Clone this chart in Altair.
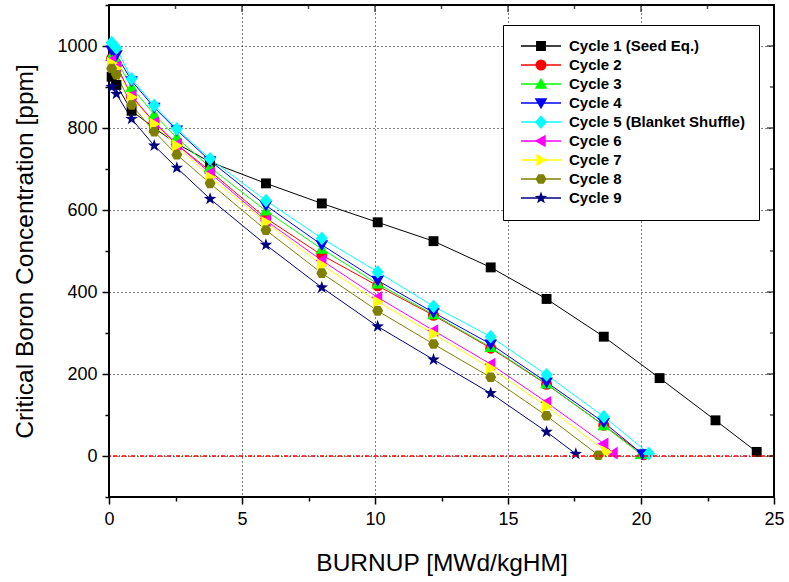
import altair as alt
import pandas as pd

# ---------------- data ----------------
cycle_names = ["Cycle 1 (Seed Eq.)", "Cycle 2", "Cycle 3", "Cycle 4",
               "Cycle 5 (Blanket Shuffle)", "Cycle 6", "Cycle 7", "Cycle 8", "Cycle 9"]
cycle_colors = ["#000000", "#FF0000", "#00FF00", "#0000FF", "#00FFFF",
                "#FF00FF", "#FFFF00", "#808000", "#000080"]

base_x = [0.1, 0.28, 0.85, 1.7, 2.55, 3.8, 5.9, 8.0, 10.1, 12.2, 14.35, 16.45]

c1_x = base_x + [18.6, 20.7, 22.8, 24.35]
c1_y = [925, 905, 842, 800, 762, 717, 665, 616, 570, 524, 460, 383, 291, 190, 87, 10]
c2_x = base_x + [18.6, 20.1]
c2_y = [970, 955, 875, 815, 760, 695, 580, 490, 415, 343, 263, 175, 75, 3]
c3_x = base_x + [18.6, 20.0]
c3_y = [975, 965, 899, 833, 776, 704, 598, 505, 420, 345, 265, 176, 74, 4]
c4_x = base_x + [18.6, 20.05]
c4_y = [990, 978, 915, 850, 795, 720, 611, 515, 428, 350, 273, 180, 82, 5]
c5_x = base_x + [18.6, 20.3]
c5_y = [1008, 995, 920, 855, 798, 725, 623, 531, 449, 365, 291, 198, 96, 6]
c6_x = base_x + [18.6, 18.95]
c6_y = [965, 950, 879, 813, 760, 690, 574, 477, 387, 306, 224, 131, 30, 7]
c7_x = base_x + [18.7]
c7_y = [958, 945, 875, 810, 757, 680, 570, 466, 376, 298, 214, 121, 10]
c8_x = base_x + [18.4]
c8_y = [945, 930, 856, 791, 735, 665, 551, 446, 354, 273, 192, 98, 2]
c9_x = base_x + [17.55]
c9_y = [900, 883, 822, 757, 703, 627, 515, 411, 316, 235, 153, 59, 5]

series_x = [c1_x, c2_x, c3_x, c4_x, c5_x, c6_x, c7_x, c8_x, c9_x]
series_y = [c1_y, c2_y, c3_y, c4_y, c5_y, c6_y, c7_y, c8_y, c9_y]

zero_line = [0]
x_ticks = [0, 2.5, 5, 7.5, 10, 12.5, 15, 17.5, 20, 22.5, 25]
x_major = [0, 5, 10, 15, 20, 25]
x_minor = [2.5, 7.5, 12.5, 17.5, 22.5]
y_ticks = [-100, 0, 100, 200, 300, 400, 500, 600, 700, 800, 900, 1000, 1100]
y_major = [0, 200, 400, 600, 800, 1000]
y_minor = [-100, 100, 300, 500, 700, 900]

rows = []
for name, xs, ys in zip(cycle_names, series_x, series_y):
    for xv, yv in zip(xs, ys):
        rows.append({"cycle": name, "cycle_b": name, "burnup": xv, "boron": yv})
df = pd.DataFrame(rows)

# ---------------- shapes ----------------
sq = "M-0.9,-0.9H0.9V0.9H-0.9Z"
circ = "circle"
tri_up = "M0,-1.15L1.15,0.85L-1.15,0.85Z"
tri_dn = "M0,1.15L1.15,-0.85L-1.15,-0.85Z"
diam = "M0,-1.25L1.1,0L0,1.25L-1.1,0Z"
tri_l = "M-1.15,0L0.85,-1.15L0.85,1.15Z"
tri_r = "M1.15,0L-0.85,-1.15L-0.85,1.15Z"
hexa = "M-1,0L-0.5,-0.87L0.5,-0.87L1,0L0.5,0.87L-0.5,0.87Z"
star = ("M0,-1.2L0.28,-0.39L1.14,-0.37L0.46,0.15L0.71,0.97L0,0.48"
        "L-0.71,0.97L-0.46,0.15L-1.14,-0.37L-0.28,-0.39Z")
shapes = [sq, circ, tri_up, tri_dn, diam, tri_l, tri_r, hexa, star]

FONT = "Liberation Sans"
W, H = 665, 492

x_scale = alt.Scale(domain=[0, 25], nice=False, zero=False)
y_scale = alt.Scale(domain=[-100, 1100], nice=False, zero=False)

x_axis = alt.Axis(
    title="BURNUP [MWd/kgHM]", values=x_ticks, format="~g",
    labelExpr="datum.value % 5 === 0 ? datum.label : ''",
    tickSize={"condition": {"test": "datum.value % 5 !== 0", "value": 4}, "value": 7},
    gridOpacity={"condition": {"test": "datum.value % 5 !== 0", "value": 0}, "value": 1},
    grid=True, gridDash=[1, 3], gridColor="black", gridWidth=1,
    tickColor="black", tickWidth=1.5, domain=False,
    labelFont=FONT, labelFontSize=18, labelColor="black", labelPadding=6,
    labelFlush=False, labelOverlap=False,
    titleFont=FONT, titleFontSize=24.5, titleFontWeight="normal", titleColor="black",
    titlePadding=23,
)
y_axis = alt.Axis(
    title="Critical Boron Concentration [ppm]", values=y_ticks, format="d",
    labelExpr="datum.value % 200 === 0 && datum.value >= 0 && datum.value <= 1000 ? datum.label : ''",
    tickSize={"condition": {"test": "datum.value % 200 !== 0", "value": 4}, "value": 7},
    gridOpacity={"condition": {"test": "datum.value % 200 !== 0 || datum.value > 1000", "value": 0}, "value": 1},
    grid=True, gridDash=[1, 3], gridColor="black", gridWidth=1,
    tickColor="black", tickWidth=1.5, domain=False,
    labelFont=FONT, labelFontSize=18, labelColor="black", labelPadding=5,
    labelFlush=False, labelOverlap=False,
    titleFont=FONT, titleFontSize=24.5, titleFontWeight="normal", titleColor="black",
    titlePadding=19,
)

X = alt.X("burnup:Q", scale=x_scale, axis=x_axis)
Y = alt.Y("boron:Q", scale=y_scale, axis=y_axis)

LX, LY = 394, 20
line_legend = alt.Legend(
    title=None, orient="none", legendX=LX, legendY=LY,
    symbolType="stroke", symbolSize=1600, symbolStrokeWidth=1.5,
    symbolOffset=3, labelOffset=7, clipHeight=14, rowPadding=4, padding=14,
    strokeColor="black", fillColor="white",
    labelFont=FONT, labelFontSize=15, labelFontWeight="bold",
    labelColor="black", labelLimit=400,
)
point_legend = alt.Legend(
    title=None, orient="none", legendX=LX, legendY=LY,
    symbolSize=121, symbolStrokeWidth=0, symbolOpacity=1,
    symbolOffset=16.5, labelOffset=31, clipHeight=14, rowPadding=4, padding=14,
    labelFont=FONT, labelFontSize=15, labelFontWeight="bold",
    labelExpr="''", labelOpacity=0, labelLimit=400,
)

lines = alt.Chart(df).mark_line(strokeWidth=1).encode(
    x=X, y=Y,
    color=alt.Color("cycle:N", scale=alt.Scale(domain=cycle_names, range=cycle_colors),
                    legend=line_legend),
)

points = alt.Chart(df).mark_point(filled=True, size=121, opacity=1, strokeWidth=0).encode(
    x=X, y=Y,
    fill=alt.Fill("cycle_b:N", scale=alt.Scale(range=cycle_colors), legend=point_legend),
    shape=alt.Shape("cycle_b:N", scale=alt.Scale(range=shapes), legend=point_legend),
)

zero = alt.Chart(pd.DataFrame({"boron": zero_line})).mark_rule(
    color="red", strokeDash=[4, 2, 1, 2], strokeWidth=1.5
).encode(y=Y)

top_major = alt.Chart(pd.DataFrame({"burnup": x_major})).mark_tick(
    orient="vertical", size=14, thickness=1.5, color="black", clip=True
).encode(x=X, y=alt.value(0))
top_minor = alt.Chart(pd.DataFrame({"burnup": x_minor})).mark_tick(
    orient="vertical", size=8, thickness=1.5, color="black", clip=True
).encode(x=X, y=alt.value(0))
right_major = alt.Chart(pd.DataFrame({"boron": y_major})).mark_tick(
    orient="horizontal", size=14, thickness=1.5, color="black", clip=True
).encode(y=Y, x=alt.value(W))
right_minor = alt.Chart(pd.DataFrame({"boron": y_minor})).mark_tick(
    orient="horizontal", size=8, thickness=1.5, color="black", clip=True
).encode(y=Y, x=alt.value(W))

chart = alt.layer(
    lines, points, zero, top_major, top_minor, right_major, right_minor
).properties(
    width=W, height=H,
    autosize=alt.AutoSizeParams(type="none"),
    padding={"left": 109, "top": 5, "right": 15, "bottom": 85},
    background="white",
).configure_view(
    stroke="black", strokeWidth=2
)

chart.save("out.html", embed_options={"renderer": "svg", "actions": False})
